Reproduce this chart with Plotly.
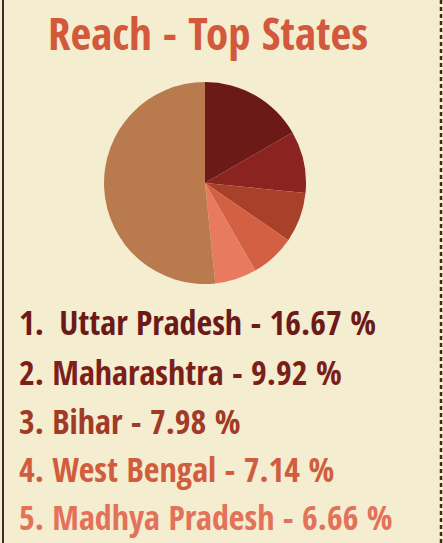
import plotly.graph_objects as go

states = ["Uttar Pradesh", "Maharashtra", "Bihar", "West Bengal", "Madhya Pradesh", "Others"]
shares = [16.67, 9.92, 7.98, 7.14, 6.66, 51.63]
slice_colors = ["#6c1a18", "#8b2320", "#a8402a", "#d46044", "#e87a5e", "#b97a4e"]
text_colors = ["#6c1a18", "#7c1e1a", "#a13b27", "#d15d3f", "#e3725a"]
title_text = "Reach - Top States"

W, H = 443, 543
FONT = "Open Sans Condensed, Roboto Condensed, sans-serif"

fig = go.Figure()
fig.add_trace(go.Pie(
    labels=states, values=shares, sort=False, direction="clockwise", rotation=0,
    marker=dict(colors=slice_colors, line=dict(width=0)),
    textinfo="none", hoverinfo="label+percent", showlegend=False,
    domain=dict(x=[(205 - 101) / W, (205 + 101) / W], y=[1 - 284 / H, 1 - 82 / H]),
))

anns = [dict(text="<b>" + title_text + "</b>", x=208 / W, y=1, xref="paper", yref="paper",
             xanchor="center", yanchor="top", yshift=0, showarrow=False,
             font=dict(family=FONT, size=45, color="#d2593b"))]
line_y = [322, 372, 421, 469, 517]
for i in range(5):
    sep = ". \u2009" if i == 0 else ". "
    txt = f"<b>{i + 1}{sep}{states[i]} - {shares[i]:.2f} %</b>"
    anns.append(dict(text=txt, x=17 / W, y=1 - line_y[i] / H, xref="paper", yref="paper",
                     xanchor="left", yanchor="middle", showarrow=False,
                     font=dict(family=FONT, size=34, color=text_colors[i])))

fig.update_layout(
    width=W, height=H, margin=dict(l=0, r=0, t=0, b=0),
    paper_bgcolor="#f4edd0", plot_bgcolor="#f4edd0",
    annotations=anns,
    shapes=[
        dict(type="line", xref="paper", yref="paper", x0=3 / W, x1=3 / W, y0=0, y1=1,
             line=dict(color="#3b2f20", width=2)),
        dict(type="line", xref="paper", yref="paper", x0=441 / W, x1=441 / W, y0=0, y1=1,
             line=dict(color="#4a2418", width=2.5, dash="4px,3px")),
    ],
)
fig.write_html("out.html")
